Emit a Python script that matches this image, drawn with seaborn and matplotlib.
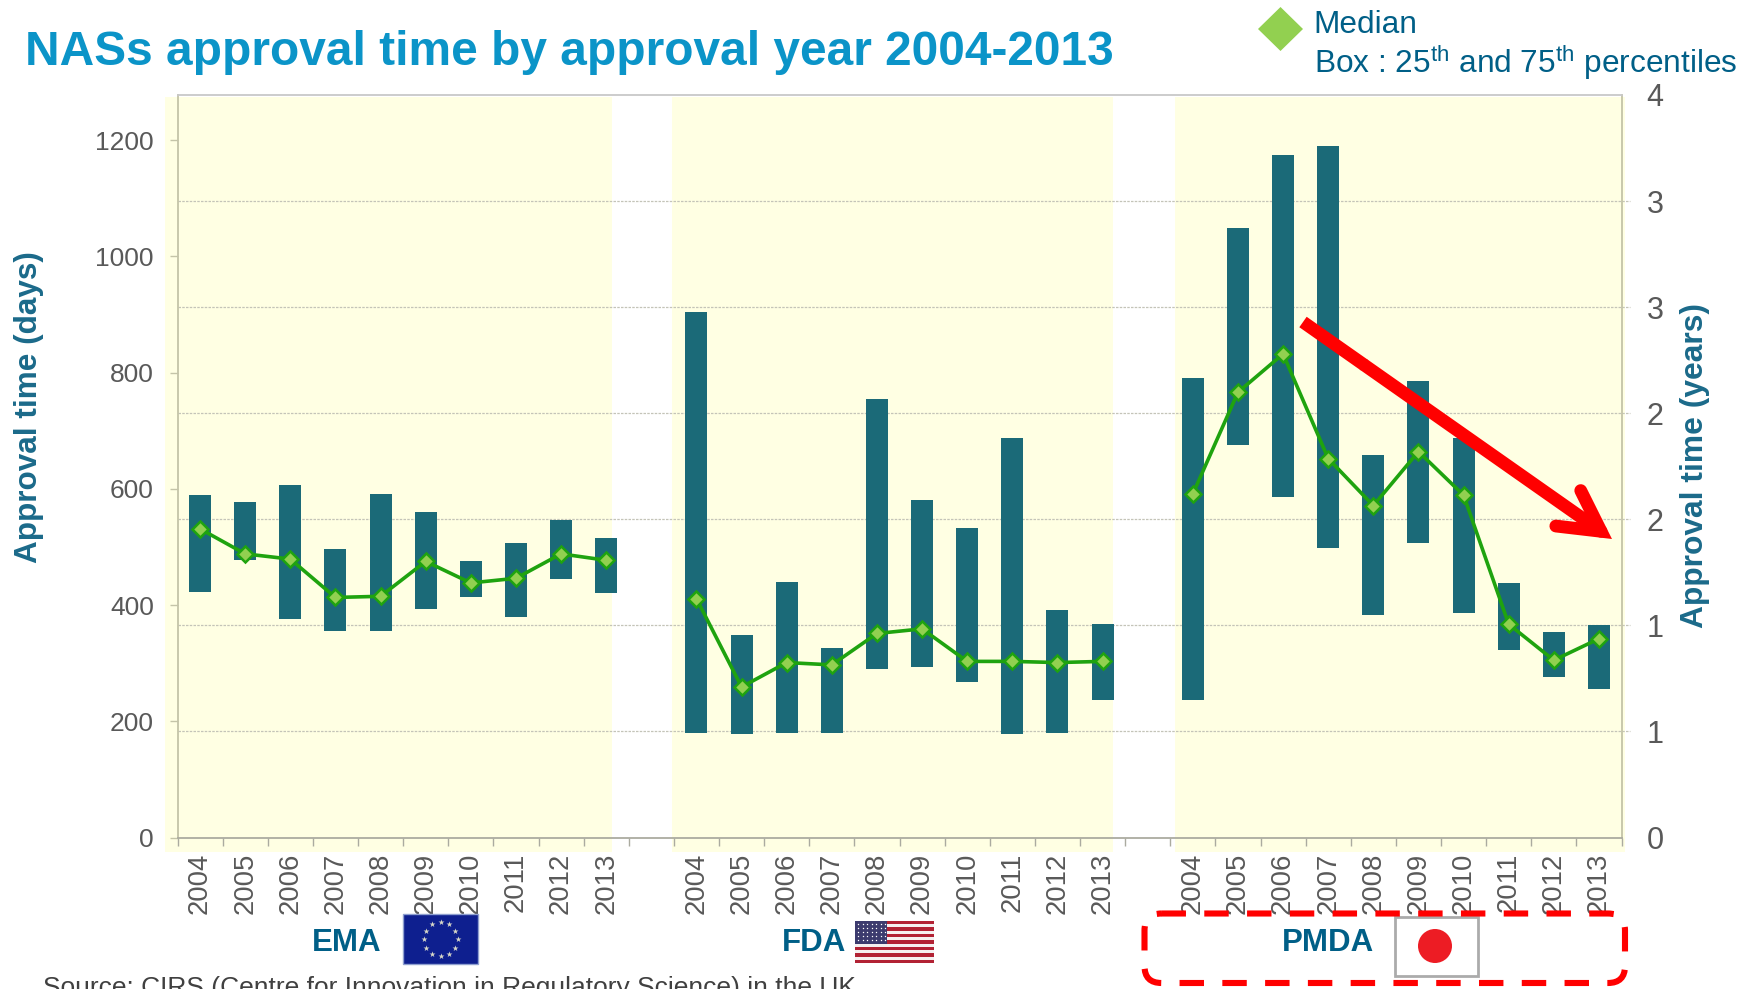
import numpy as np
import pandas as pd
import matplotlib
matplotlib.use("Agg")
import matplotlib.pyplot as plt
from matplotlib.patches import Rectangle, FancyBboxPatch, FancyArrowPatch, Ellipse, Polygon
import seaborn as sns

years = [2004, 2005, 2006, 2007, 2008, 2009, 2010, 2011, 2012, 2013]
agencies = ["EMA", "FDA", "PMDA"]

ema_q75 = [589, 577, 606, 496, 591, 560, 475, 506, 546, 515]
ema_q25 = [423, 477, 376, 355, 355, 394, 413, 380, 444, 421]
ema_med = [531, 488, 479, 413, 415, 475, 438, 446, 488, 477]

fda_q75 = [905, 349, 440, 326, 755, 581, 533, 687, 392, 367]
fda_q25 = [180, 178, 180, 180, 290, 293, 268, 178, 180, 236]
fda_med = [411, 259, 301, 297, 351, 359, 303, 303, 301, 303]

pmda_q75 = [790, 1048, 1174, 1189, 658, 786, 687, 438, 353, 365]
pmda_q25 = [237, 676, 585, 498, 382, 506, 386, 322, 276, 255]
pmda_med = [591, 766, 832, 652, 571, 664, 589, 367, 305, 342]

year_ticks = [0, 0.5, 1, 1.5, 2, 2.5, 3, 3.5]
year_labels = ["0", "1", "1", "2", "2", "3", "3", "4"]

rows = []
for g, (name, hi, lo, med) in enumerate(zip(agencies,
        [ema_q75, fda_q75, pmda_q75], [ema_q25, fda_q25, pmda_q25], [ema_med, fda_med, pmda_med])):
    for i, y in enumerate(years):
        rows.append(dict(agency=name, year=y, pos=g * 11 + i, q75=hi[i], q25=lo[i], med=med[i]))
df = pd.DataFrame(rows)
df["span"] = df.q75 - df.q25

sns.set_theme(style="white")
plt.rcParams["font.family"] = ["Liberation Sans", "DejaVu Sans"]
plt.rcParams["mathtext.fontset"] = "custom"
plt.rcParams["mathtext.rm"] = "Liberation Sans"
plt.rcParams["mathtext.default"] = "regular"

W, H = 1757, 989
fig = plt.figure(figsize=(W / 100, H / 100), dpi=100, facecolor="white")

# pixel-space layers
bg = fig.add_axes([0, 0, 1, 1], zorder=0)
bg.set_xlim(0, W); bg.set_ylim(H, 0); bg.axis("off")
for x0, x1 in [(164.5, 612), (671.5, 1112.5), (1174.5, 1625)]:
    bg.add_patch(Rectangle((x0, 97), x1 - x0, 755, fc="#FFFFE3", ec="none"))

L, R, T, B = 177.5, 1621.5, 95, 837.5
ax = fig.add_axes([L / W, 1 - B / H, (R - L) / W, (B - T) / H], zorder=1)
ax.patch.set_alpha(0)

TEAL = "#1B6A78"
GREEN = "#1FA30F"
grid_days = [y * 365 for y in year_ticks[1:-1]]
ax.hlines(grid_days, 0, 1.006, transform=ax.get_yaxis_transform(), colors="#C4C4B8",
          lw=0.9, linestyles=(0, (2, 1)), clip_on=False, zorder=1)

sns.barplot(data=df, x="pos", y="span", bottom=df.q25.values, native_scale=True, width=0.49,
            color=TEAL, saturation=1, errorbar=None, ax=ax, zorder=2, linewidth=0)
sns.lineplot(data=df, x="pos", y="med", hue="agency", palette=[GREEN] * 3, ax=ax, lw=2.6,
             marker="D", markersize=8.5, markerfacecolor="#92D050", markeredgecolor=GREEN,
             markeredgewidth=1.8, legend=False, errorbar=None, zorder=3)

ax.set_xlim(-0.5, 31.5)
ax.set_ylim(0, 1277.5)
ax.set_xlabel(""); ax.set_ylabel("")
ax.set_xticks(np.arange(-0.5, 32, 1))
ax.set_xticklabels([])
ax.set_xticks(df.pos.values, minor=True)
ax.set_xticklabels(df.year.values, minor=True, rotation=90, fontsize=19.8, color="#595959")
ax.tick_params(axis="x", which="major", length=6, width=1, color="#ABABA0", bottom=True)
ax.tick_params(axis="x", which="minor", length=0, pad=11, bottom=False)
ax.set_yticks(range(0, 1201, 200))
ax.tick_params(axis="y", length=6, width=1, color="#C4C4A8", left=True, labelsize=19, labelcolor="#595959", pad=11)
for s, c in dict(left="#C4C4A8", right="#C4C4A8", bottom="#ABABA0", top="#C8C8C8").items():
    ax.spines[s].set_color(c); ax.spines[s].set_linewidth(1.3); ax.spines[s].set_visible(True)

ax2 = ax.twinx()
ax2.set_ylim(0, 3.5)
ax2.set_yticks(year_ticks)
ax2.set_yticklabels(year_labels, fontsize=22, color="#595959")
ax2.tick_params(axis="y", length=0, pad=18)
for s in ax2.spines.values():
    s.set_visible(False)
ax2.patch.set_alpha(0)

# overlay in pixel coordinates
ov = fig.add_axes([0, 0, 1, 1], zorder=5)
ov.set_xlim(0, W); ov.set_ylim(H, 0); ov.axis("off"); ov.patch.set_alpha(0)

ov.text(25, 52.5, "NASs approval time by approval year 2004-2013", fontsize=34.5, fontweight="bold",
        color="#0B94C8", va="center", ha="left")
ov.add_patch(Polygon([(1258, 29), (1280.5, 7), (1303, 29), (1280.5, 51)], fc="#92D050", ec="none"))
ov.text(1313.5, 25, "Median", fontsize=22.8, color="#005F87", va="center", ha="left")
ov.text(1313.5, 62, "Box : 25$^{th}$ and 75$^{th}$ percentiles", fontsize=22.8, color="#005F87", va="center", ha="left")

ov.text(29, 407, "Approval time (days)", rotation=90, fontsize=22.7, fontweight="bold",
        color="#1B6A8A", va="center", ha="center")
ov.text(1695, 465, "Approval time (years)", rotation=90, fontsize=22.9, fontweight="bold",
        color="#1B6A8A", va="center", ha="center")

for name, x in [("EMA", 347), ("FDA", 814), ("PMDA", 1328)]:
    ov.text(x, 943, name, fontsize=22.5, fontweight="bold", color="#005F87", va="center", ha="center")

# EU flag
ov.add_patch(Rectangle((403, 914), 75, 50, fc="#0E1F8F", ec="#8FA0D0", lw=1))
ang = np.deg2rad(np.arange(0, 360, 30))
ov.scatter(440.5 + 17 * np.cos(ang), 939 + 17 * np.sin(ang), marker="*", s=20, c="#D8D8C8", lw=0)
# US flag
for k in range(13):
    ov.add_patch(Rectangle((855, 921 + k * 42 / 13), 79, 42 / 13, fc="#B22234" if k % 2 == 0 else "#F5F0F0", ec="none"))
ov.add_patch(Rectangle((855, 921), 32, 22.6, fc="#3C3B6E", ec="none"))
xs, ys = np.meshgrid(np.arange(858, 886, 4.5), np.arange(924, 942, 4))
ov.scatter(xs.ravel(), ys.ravel(), marker=".", s=4, c="white", lw=0)
# Japan flag
ov.add_patch(Rectangle((1395, 917), 83, 59, fc="white", ec="#ABABAB", lw=2))
ov.add_patch(Ellipse((1435, 946), 34, 34, fc="#ED1C24", ec="none"))

# dashed box
ov.add_patch(FancyBboxPatch((1144.5, 913.5), 480.5, 69.5, boxstyle="round,pad=0,rounding_size=17", fc="none",
                            ec="#FF0000", lw=4.4, linestyle=(0, (4, 3)), capstyle="butt"))

# trend arrow
sx, sy, tx, ty = 1303, 322, 1612, 539
mx, my = sx + 0.2 * (tx - sx), sy + 0.2 * (ty - sy)
ov.add_patch(FancyArrowPatch((sx, sy), (mx, my), arrowstyle="-", color="#FF0000", lw=9.2,
                             shrinkA=0, shrinkB=0, capstyle="butt"))
ov.add_patch(FancyArrowPatch((mx, my), (tx, ty), arrowstyle="->,head_length=2.4,head_width=1.3",
                             mutation_scale=12, color="#FF0000", lw=9.2, shrinkA=0, shrinkB=0,
                             capstyle="round", joinstyle="miter"))

ov.text(43, 976, "Source: CIRS (Centre for Innovation in Regulatory Science) in the UK", fontsize=19,
        color="#404040", va="top", ha="left")

fig.savefig("out.png", dpi=100)
